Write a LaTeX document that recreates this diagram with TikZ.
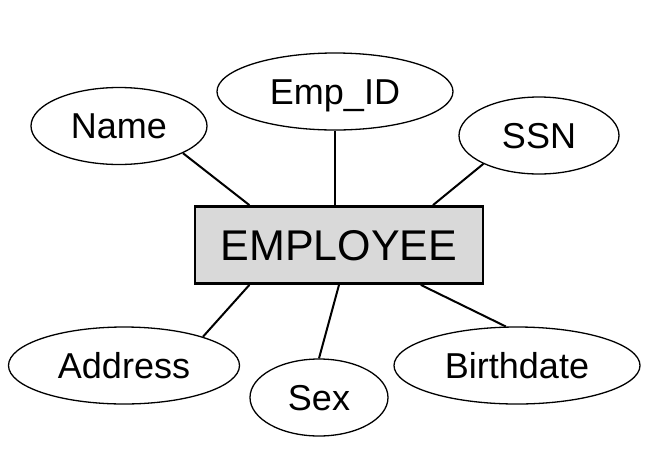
\documentclass[tikz,border=0pt]{standalone}
\usepackage{fontspec}
\setmainfont{Liberation Sans}
\usepackage{tikz}
\usetikzlibrary{shapes.geometric}
\definecolor{entityfill}{HTML}{D9D9D9}

\begin{document}
\begin{tikzpicture}[
		x=1pt, y=-1pt,
		entity/.style={draw, line width=2.8pt, fill=entityfill, inner sep=0pt,
			minimum width=288pt, minimum height=77pt,
			text height=30.8pt, text depth=0pt, font=\fontsize{43}{48}\selectfont},
		attribute/.style={draw, ellipse, line width=1.3pt, inner sep=0pt,
			minimum height=77pt, text height=25.8pt, text depth=0pt,
			font=\fontsize{36}{40}\selectfont},
		link/.style={line width=2pt}
	]
		\useasboundingbox (0,0) rectangle (656,456);
		\node[entity] (employee) at (339,245) {EMPLOYEE};
		\foreach \n/\x/\y/\w/\t in {name/119/126/176/Name, empid/335/91.5/236/Emp\_ID, ssn/539/135.5/160/SSN, address/124/365.5/231/Address, sex/319/397.5/138/Sex, birthdate/517/365.5/246/Birthdate}
		{
			\node[attribute, minimum width=\w pt] (\n) at (\x, \y) {\t};
		}
		\foreach \n/\a/\b in {name/-23/156.3, ssn/-153.8/23, address/20.8/204.4, sex/north/south, birthdate/106/-26}
		{
			\draw[link] (\n.\a) -- (employee.\b);
		}
		\draw[link] (empid.south) -- (empid.south |- employee.north);
	\end{tikzpicture}
\end{document}
